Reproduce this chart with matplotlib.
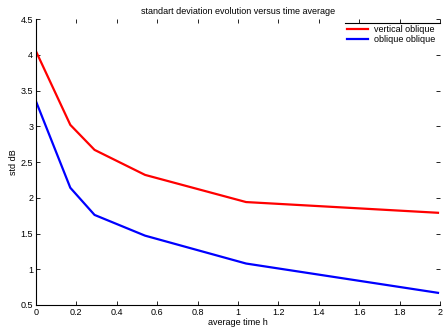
import matplotlib.pyplot as plt
from matplotlib.lines import Line2D

avg_time = [0, 0.17, 0.29, 0.54, 1.04, 1.99]
vertical_oblique = [4.05, 3.02, 2.67, 2.32, 1.94, 1.79]
oblique_oblique = [3.35, 2.14, 1.76, 1.47, 1.08, 0.67]

xticks = [0, 0.2, 0.4, 0.6, 0.8, 1, 1.2, 1.4, 1.6, 1.8, 2]
xtick_labels = ['0', '0.2', '0.4', '0.6', '0.8', '1', '1.2', '1.4', '1.6', '1.8', '2']
yticks = [0.5, 1, 1.5, 2, 2.5, 3, 3.5, 4, 4.5]
ytick_labels = ['0.5', '1', '1.5', '2', '2.5', '3', '3.5', '4', '4.5']

plt.rcParams['font.family'] = ['Liberation Sans', 'DejaVu Sans']

fig = plt.figure(figsize=(4.44, 3.29), dpi=100)
ax = fig.add_axes([0.081, 0.073, 0.91, 0.869])

ax.plot(avg_time, vertical_oblique, color='#ff0000', lw=1.6, label='vertical oblique')
ax.plot(avg_time, oblique_oblique, color='#0000ff', lw=1.6, label='oblique oblique')

ax.set_xlim(0, 2)
ax.set_ylim(0.5, 4.5)
ax.set_xticks(xticks)
ax.set_xticklabels(xtick_labels)
ax.set_yticks(yticks)
ax.set_yticklabels(ytick_labels)
ax.tick_params(direction='in', top=True, right=True, labelsize=6.5, length=3,
               width=0.6, pad=2)
for s in ['top', 'right']:
    ax.spines[s].set_visible(False)
for s in ['left', 'bottom']:
    ax.spines[s].set_linewidth(0.8)

ax.set_xlabel('average time h', fontsize=6.5, labelpad=1)
ax.set_ylabel('std dB', fontsize=6.5, labelpad=2)
ax.set_title('standart deviation evolution versus time average', fontsize=6.5, pad=4)

leg = ax.legend(loc='upper right', bbox_to_anchor=(1.0, 0.995), frameon=False,
                fontsize=6.5, handlelength=2.3, handletextpad=0.7,
                labelspacing=0.1, borderaxespad=0.1)
ax.add_line(Line2D([0.765, 1.0], [0.985, 0.985], transform=ax.transAxes,
                   color='black', lw=0.8, clip_on=False))

fig.savefig('out.png', dpi=100)
